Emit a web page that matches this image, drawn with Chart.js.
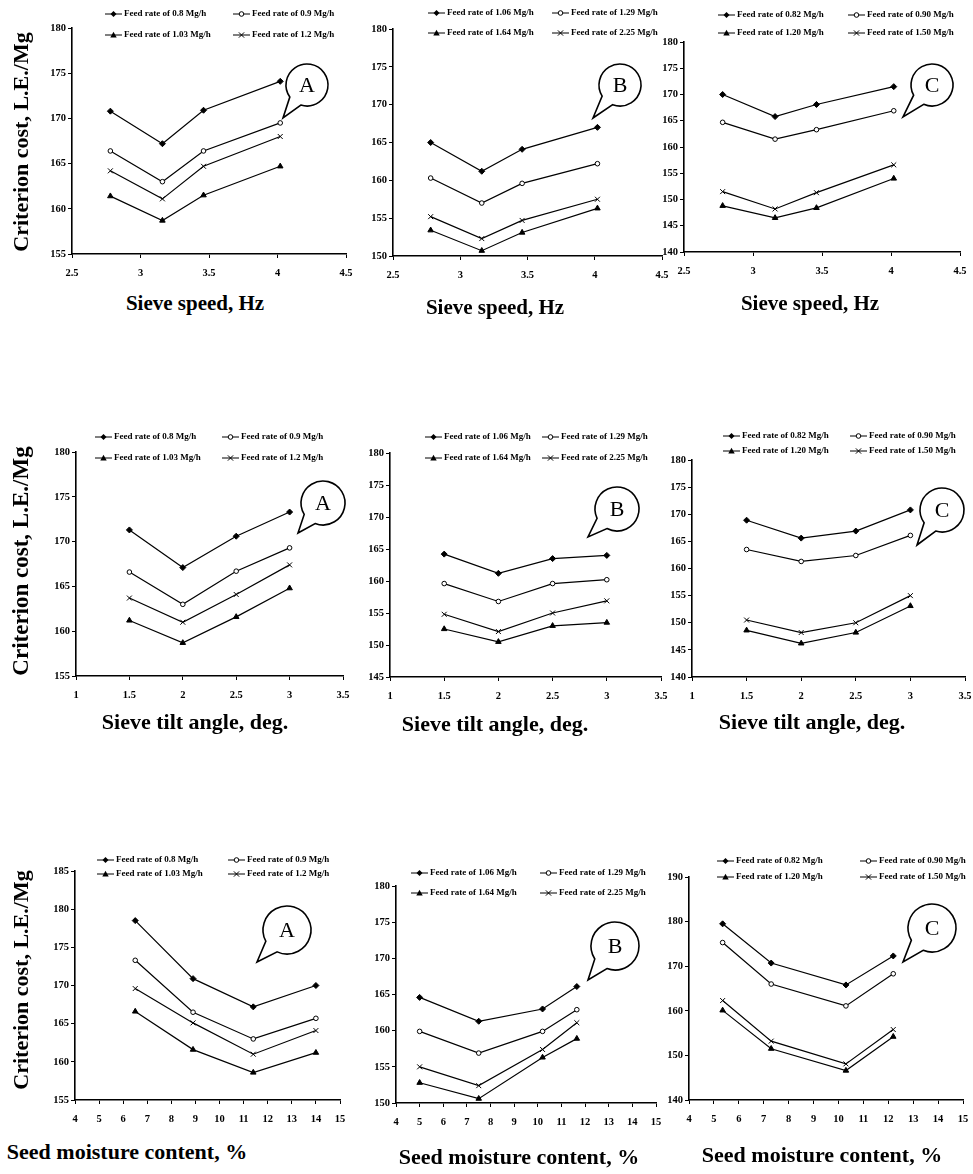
<!DOCTYPE html>
<html lang="en">
<head>
<meta charset="UTF-8">
<title>Criterion cost vs sieve speed, tilt angle and seed moisture</title>
<script src="https://cdn.jsdelivr.net/npm/chart.js"></script>
<style>
  html, body { margin: 0; padding: 0; background: #fff; overflow: hidden; }
  #page { position: relative; width: 973px; height: 1174px; overflow: hidden; }
  canvas { position: absolute; }
  .title { position: absolute; transform: translate(-50%, -50%); white-space: nowrap;
           font-family: "Liberation Serif", serif; font-weight: bold; color: #000; z-index: 2; }
  .ytitle { transform: translate(-50%, -50%) rotate(-90deg); }
</style>
</head>
<body>
<div id="page"></div>
<script>
// x values of the four trials
const sieveSpeed = [2.78, 3.16, 3.46, 4.02];
const tiltAngle = [1.5, 2, 2.5, 3];
const moistureA = [6.5, 8.9, 11.4, 14.0];
const moistureB = [5.0, 7.5, 10.2, 11.65];
const moistureC = [5.35, 7.3, 10.3, 12.2];

// legend labels (feed rates)
const feedA = ['Feed rate of 0.8 Mg/h', 'Feed rate of 0.9 Mg/h', 'Feed rate of 1.03 Mg/h', 'Feed rate of 1.2 Mg/h'];
const feedB = ['Feed rate of 1.06 Mg/h', 'Feed rate of 1.29 Mg/h', 'Feed rate of 1.64 Mg/h', 'Feed rate of 2.25 Mg/h'];
const feedC = ['Feed rate of 0.82 Mg/h', 'Feed rate of 0.90 Mg/h', 'Feed rate of 1.20 Mg/h', 'Feed rate of 1.50 Mg/h'];

// criterion cost, L.E./Mg - one row per feed rate, same order as the labels
const speedCostA = [[170.8, 167.2, 170.9, 174.1], [166.4, 163.0, 166.4, 169.5], [161.4, 158.7, 161.5, 164.7], [164.2, 161.1, 164.7, 168.0]];
const speedCostB = [[165.0, 161.2, 164.1, 167.0], [160.3, 157.0, 159.6, 162.2], [153.4, 150.7, 153.1, 156.3], [155.2, 152.3, 154.7, 157.5]];
const speedCostC = [[170.0, 165.8, 168.1, 171.5], [164.7, 161.5, 163.3, 166.9], [148.8, 146.5, 148.4, 154.0], [151.5, 148.2, 151.3, 156.6]];

const tiltCostA = [[171.3, 167.1, 170.6, 173.3], [166.6, 163.0, 166.7, 169.3], [161.2, 158.7, 161.6, 164.8], [163.7, 161.0, 164.1, 167.4]];
const tiltCostB = [[164.2, 161.2, 163.5, 164.0], [159.6, 156.8, 159.6, 160.2], [152.5, 150.5, 153.0, 153.5], [154.8, 152.1, 155.0, 156.9]];
const tiltCostC = [[168.9, 165.6, 166.9, 170.8], [163.5, 161.3, 162.4, 166.1], [148.6, 146.2, 148.2, 153.1], [150.5, 148.2, 150.0, 155.0]];

const moistCostA = [[178.5, 170.9, 167.2, 170.0], [173.3, 166.5, 163.0, 165.7], [166.6, 161.6, 158.6, 161.2], [169.6, 165.1, 161.0, 164.1]];
const moistCostB = [[164.6, 161.3, 163.0, 166.1], [159.9, 156.9, 159.9, 162.9], [152.8, 150.6, 156.3, 158.9], [155.0, 152.4, 157.4, 161.1]];
const moistCostC = [[179.5, 170.7, 165.8, 172.3], [175.3, 166.0, 161.1, 168.3], [160.1, 151.5, 146.6, 154.2], [162.3, 153.2, 148.1, 155.8]];

// axis ranges [min, max, step]
const speedAxis = [2.5, 4.5, 0.5];
const tiltAxis = [1, 3.5, 0.5];
const moistAxis = [4, 15, 1];

const page = document.getElementById('page');
const FONT = '"Liberation Serif", serif';
const markers = ['rectRot', 'circle', 'triangle', 'crossRot'];
const radii = [3, 2.3, 3.2, 3.5];

const panels = [
  { x: sieveSpeed, y: speedCostA, labels: feedA, xr: speedAxis, yr: [155, 180, 5], plot: [72, 28, 346, 254],
    legend: [105, 14, 233, 35], bubble: { t: 'A', c: [307, 85], tip: [283, 118], r: 21 } },
  { x: sieveSpeed, y: speedCostB, labels: feedB, xr: speedAxis, yr: [150, 180, 5], plot: [393, 29, 662, 256],
    legend: [428, 13, 552, 33], bubble: { t: 'B', c: [620, 85], tip: [593, 118], r: 21 } },
  { x: sieveSpeed, y: speedCostC, labels: feedC, xr: speedAxis, yr: [140, 180, 5], plot: [684, 42, 960, 252],
    legend: [718, 15, 848, 33], bubble: { t: 'C', c: [932, 85], tip: [903, 117], r: 21 } },

  { x: tiltAngle, y: tiltCostA, labels: feedA, xr: tiltAxis, yr: [155, 180, 5], plot: [76, 452, 343, 676],
    legend: [95, 437, 222, 458], bubble: { t: 'A', c: [323, 503], tip: [298, 533], r: 22 } },
  { x: tiltAngle, y: tiltCostB, labels: feedB, xr: tiltAxis, yr: [145, 180, 5], plot: [390, 453, 661, 677],
    legend: [425, 437, 542, 458], bubble: { t: 'B', c: [617, 509], tip: [588, 537], r: 22 } },
  { x: tiltAngle, y: tiltCostC, labels: feedC, xr: tiltAxis, yr: [140, 180, 5], plot: [692, 460, 965, 677],
    legend: [723, 436, 850, 451], bubble: { t: 'C', c: [942, 510], tip: [917, 545], r: 22 } },

  { x: moistureA, y: moistCostA, labels: feedA, xr: moistAxis, yr: [155, 185, 5], plot: [75, 871, 340, 1100],
    legend: [97, 860, 228, 874], bubble: { t: 'A', c: [287, 930], tip: [257, 962], r: 24 } },
  { x: moistureB, y: moistCostB, labels: feedB, xr: moistAxis, yr: [150, 180, 5], plot: [396, 886, 656, 1103],
    legend: [411, 873, 540, 893], bubble: { t: 'B', c: [615, 946], tip: [588, 980], r: 24 } },
  { x: moistureC, y: moistCostC, labels: feedC, xr: moistAxis, yr: [140, 190, 10], plot: [689, 877, 963, 1100],
    legend: [717, 861, 860, 877], bubble: { t: 'C', c: [932, 928], tip: [903, 962], r: 24 } }
];

const titles = [
  { t: 'Sieve speed, Hz', x: 195, y: 303, s: 21 },
  { t: 'Sieve speed, Hz', x: 495, y: 307, s: 21 },
  { t: 'Sieve speed, Hz', x: 810, y: 303, s: 21 },
  { t: 'Sieve tilt angle, deg.', x: 195, y: 722, s: 22 },
  { t: 'Sieve tilt angle, deg.', x: 495, y: 724, s: 22 },
  { t: 'Sieve tilt angle, deg.', x: 812, y: 722, s: 22 },
  { t: 'Seed moisture content, %', x: 127, y: 1152, s: 22 },
  { t: 'Seed moisture content, %', x: 519, y: 1157, s: 22 },
  { t: 'Seed moisture content, %', x: 822, y: 1155, s: 22 },
  { t: 'Criterion cost, L.E./Mg', x: 21, y: 142, s: 22, rot: true },
  { t: 'Criterion cost, L.E./Mg', x: 21, y: 561, s: 23, rot: true },
  { t: 'Criterion cost, L.E./Mg', x: 21, y: 980, s: 22, rot: true }
];

function drawMarker(ctx, k, x, y) {
  const r = radii[k];
  ctx.beginPath();
  if (k === 0) {
    ctx.moveTo(x, y - r); ctx.lineTo(x + r, y); ctx.lineTo(x, y + r); ctx.lineTo(x - r, y); ctx.closePath();
    ctx.fillStyle = '#000'; ctx.fill();
  } else if (k === 1) {
    ctx.arc(x, y, r, 0, Math.PI * 2);
    ctx.fillStyle = '#fff'; ctx.fill(); ctx.stroke();
  } else if (k === 2) {
    ctx.moveTo(x, y - r); ctx.lineTo(x + r, y + r * 0.8); ctx.lineTo(x - r, y + r * 0.8); ctx.closePath();
    ctx.fillStyle = '#000'; ctx.fill();
  } else {
    const d = r * 0.75;
    ctx.moveTo(x - d, y - d); ctx.lineTo(x + d, y + d);
    ctx.moveTo(x + d, y - d); ctx.lineTo(x - d, y + d);
    ctx.stroke();
  }
}

// legend rows and the speech bubble with the panel letter
const decor = {
  id: 'decor',
  afterDraw(chart, args, o) {
    const ctx = chart.ctx;
    ctx.save();
    ctx.translate(-o.ox, -o.oy);
    ctx.strokeStyle = '#000';
    ctx.lineWidth = 1;
    o.labels.forEach((lab, k) => {
      const x = k % 2 ? o.legend[2] : o.legend[0];
      const y = k < 2 ? o.legend[1] : o.legend[3];
      ctx.beginPath(); ctx.moveTo(x, y); ctx.lineTo(x + 17, y); ctx.stroke();
      drawMarker(ctx, k, x + 8.5, y);
      ctx.fillStyle = '#000';
      ctx.font = 'bold 9px ' + FONT;
      ctx.textAlign = 'left';
      ctx.textBaseline = 'middle';
      ctx.fillText(lab, x + 19, y);
    });

    const b = o.bubble;
    const [cx, cy] = b.c, [tx, ty] = b.tip;
    const a = Math.atan2(ty - cy, tx - cx), g = 0.33;
    ctx.beginPath();
    ctx.arc(cx, cy, b.r, a + g, a - g + Math.PI * 2);
    ctx.lineTo(tx, ty);
    ctx.closePath();
    ctx.fillStyle = '#fff'; ctx.fill();
    ctx.lineWidth = 1.6; ctx.stroke();
    ctx.fillStyle = '#000';
    ctx.font = '22px ' + FONT;
    ctx.textAlign = 'center';
    ctx.textBaseline = 'middle';
    ctx.fillText(b.t, cx, cy + 1);
    ctx.restore();
  }
};

const tickFont = { family: FONT, size: 10.5, weight: 'bold' };

panels.forEach(p => {
  const [l, t, r, b] = p.plot;
  const ox = l - 50, oy = t - 45;
  const cv = document.createElement('canvas');
  cv.width = r - l + 90;
  cv.height = b - t + 45 + 34;
  cv.style.left = ox + 'px';
  cv.style.top = oy + 'px';
  page.appendChild(cv);

  new Chart(cv, {
    type: 'line',
    data: {
      datasets: p.y.map((vals, k) => ({
        label: p.labels[k],
        data: p.x.map((xv, j) => ({ x: xv, y: vals[j] })),
        borderColor: '#000',
        borderWidth: 1.2,
        tension: 0,
        pointStyle: markers[k],
        pointRadius: radii[k],
        pointBorderColor: '#000',
        pointBackgroundColor: k === 1 ? '#fff' : '#000',
        pointBorderWidth: 1
      }))
    },
    options: {
      responsive: false,
      animation: false,
      events: [],
      layout: { padding: { left: 14, top: 45, right: 40, bottom: 0 } },
      plugins: {
        legend: { display: false },
        tooltip: { enabled: false },
        decor: { ox, oy, labels: p.labels, legend: p.legend, bubble: p.bubble }
      },
      scales: {
        x: {
          type: 'linear', min: p.xr[0], max: p.xr[1],
          afterFit: s => { s.height = 34; },
          ticks: { stepSize: p.xr[2], autoSkip: false, maxRotation: 0, padding: 9, color: '#000', font: tickFont, callback: v => v },
          grid: { drawOnChartArea: false, tickLength: 4, color: '#000' },
          border: { color: '#000', width: 1.6 }
        },
        y: {
          min: p.yr[0], max: p.yr[1],
          afterFit: s => { s.width = 36; },
          ticks: { stepSize: p.yr[2], autoSkip: false, padding: 2, color: '#000', font: tickFont, callback: v => v },
          grid: { drawOnChartArea: false, tickLength: 4, color: '#000' },
          border: { color: '#000', width: 1.6 }
        }
      }
    },
    plugins: [decor]
  });
});

titles.forEach(d => {
  const el = document.createElement('div');
  el.className = d.rot ? 'title ytitle' : 'title';
  el.textContent = d.t;
  el.style.left = d.x + 'px';
  el.style.top = d.y + 'px';
  el.style.fontSize = d.s + 'px';
  page.appendChild(el);
});
</script>
</body>
</html>
